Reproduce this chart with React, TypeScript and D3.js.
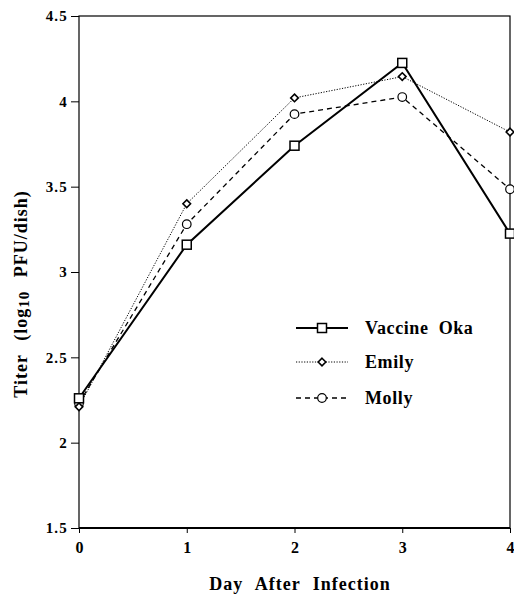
import React, { useEffect, useRef } from 'react';
import * as d3 from 'd3';

const days = [0, 1, 2, 3, 4];
const yTicks = [1.5, 2, 2.5, 3, 3.5, 4, 4.5];
const oka = [2.26, 3.16, 3.74, 4.225, 3.225];
const emily = [2.21, 3.4, 4.02, 4.145, 3.82];
const molly = [2.23, 3.28, 3.925, 4.025, 3.485];
const seriesNames = ['Vaccine Oka', 'Emily', 'Molly'];

const W = 514;
const H = 594;
const font = '"Liberation Serif", "DejaVu Serif", serif';

export default function App() {
  const ref = useRef<SVGSVGElement>(null);

  useEffect(() => {
    const svg = d3.select(ref.current);
    svg.selectAll('*').remove();

    const x = d3.scaleLinear().domain([0, 4]).range([79, 510]);
    const y = d3.scaleLinear().domain([1.5, 4.5]).range([528, 16]);

    // frame
    const g = svg.append('g');
    g.append('rect')
      .attr('x', x(0)).attr('y', y(4.5))
      .attr('width', x(4) - x(0)).attr('height', y(1.5) - y(4.5))
      .attr('fill', 'none').attr('stroke', '#000').attr('stroke-width', 1.2);
    g.append('line')
      .attr('x1', x(0)).attr('x2', x(4)).attr('y1', y(1.5)).attr('y2', y(1.5))
      .attr('stroke', '#000').attr('stroke-width', 2.2);

    // y axis
    const ya = svg.append('g').attr('transform', `translate(${x(0)},0)`)
      .call(d3.axisLeft(y).tickValues(yTicks).tickSize(8).tickPadding(3)
        .tickFormat((d: any) => String(d)));
    ya.select('.domain').remove();
    ya.selectAll('text').attr('font-family', font).attr('font-weight', 'bold')
      .attr('font-size', 15).attr('letter-spacing', 1.2).attr('fill', '#000');

    // x axis
    const xa = svg.append('g').attr('transform', `translate(0,${y(1.5)})`)
      .call(d3.axisBottom(x).tickValues(days).tickSize(5).tickPadding(9)
        .tickFormat((d: any) => String(d)));
    xa.select('.domain').remove();
    xa.selectAll('text').attr('font-family', font).attr('font-weight', 'bold')
      .attr('font-size', 16).attr('fill', '#000');

    // axis titles
    svg.append('text')
      .attr('x', 300).attr('y', 590)
      .attr('text-anchor', 'middle')
      .attr('font-family', font).attr('font-weight', 'bold').attr('font-size', 18)
      .attr('letter-spacing', 1).attr('word-spacing', 7)
      .text('Day After Infection');

    const yt = svg.append('text')
      .attr('transform', `translate(27,294) rotate(-90)`)
      .attr('text-anchor', 'middle')
      .attr('font-family', font).attr('font-weight', 'bold').attr('font-size', 18)
      .attr('letter-spacing', 1).attr('word-spacing', 8);
    yt.append('tspan').text('Titer (log');
    yt.append('tspan').attr('font-size', 15).attr('dy', 2).text('10');
    yt.append('tspan').attr('dy', -2).text(' PFU/dish)');

    const line = d3.line<number>().x((d, i) => x(days[i])).y(d => y(d));

    const styles = [
      { data: oka, dash: null, width: 2, marker: 'square' },
      { data: emily, dash: '1.2,1.5', width: 1, marker: 'diamond' },
      { data: molly, dash: '5,4', width: 1.3, marker: 'circle' },
    ];

    const drawMarker = (sel: any, kind: string, cx: number, cy: number) => {
      if (kind === 'square') {
        sel.append('rect').attr('x', cx - 4.5).attr('y', cy - 4.5)
          .attr('width', 9).attr('height', 9)
          .attr('fill', '#fff').attr('stroke', '#000').attr('stroke-width', 1.5);
      } else if (kind === 'diamond') {
        sel.append('path')
          .attr('d', `M${cx},${cy - 3.8}L${cx + 3.8},${cy}L${cx},${cy + 3.8}L${cx - 3.8},${cy}Z`)
          .attr('fill', '#fff').attr('stroke', '#000').attr('stroke-width', 1.6);
      } else {
        sel.append('circle').attr('cx', cx).attr('cy', cy).attr('r', 4.3)
          .attr('fill', '#fff').attr('stroke', '#000').attr('stroke-width', 1.2);
      }
    };

    // lines then markers, oka drawn last so it sits on top
    [2, 1, 0].forEach(k => {
      const s = styles[k];
      svg.append('path').datum(s.data).attr('d', line)
        .attr('fill', 'none').attr('stroke', '#000')
        .attr('stroke-width', s.width)
        .attr('stroke-dasharray', s.dash);
    });
    [2, 1, 0].forEach(k => {
      const s = styles[k];
      const mg = svg.append('g');
      s.data.forEach((v, i) => drawMarker(mg, s.marker, x(days[i]), y(v)));
    });

    // legend
    const lg = svg.append('g');
    const legY = [328, 362, 398];
    styles.forEach((s, k) => {
      lg.append('line').attr('x1', 296).attr('x2', 348)
        .attr('y1', legY[k]).attr('y2', legY[k])
        .attr('stroke', '#000').attr('stroke-width', s.width)
        .attr('stroke-dasharray', s.dash);
      drawMarker(lg, s.marker, 322, legY[k]);
      lg.append('text').attr('x', 365).attr('y', legY[k] + 6)
        .attr('font-family', font).attr('font-weight', 'bold').attr('font-size', 18)
        .attr('letter-spacing', 0.6).attr('word-spacing', 5)
        .text(seriesNames[k]);
    });
  }, []);

  return (
    <svg ref={ref} width={W} height={H} style={{ position: 'absolute', left: 0, top: 0, background: '#fff' }} />
  );
}
